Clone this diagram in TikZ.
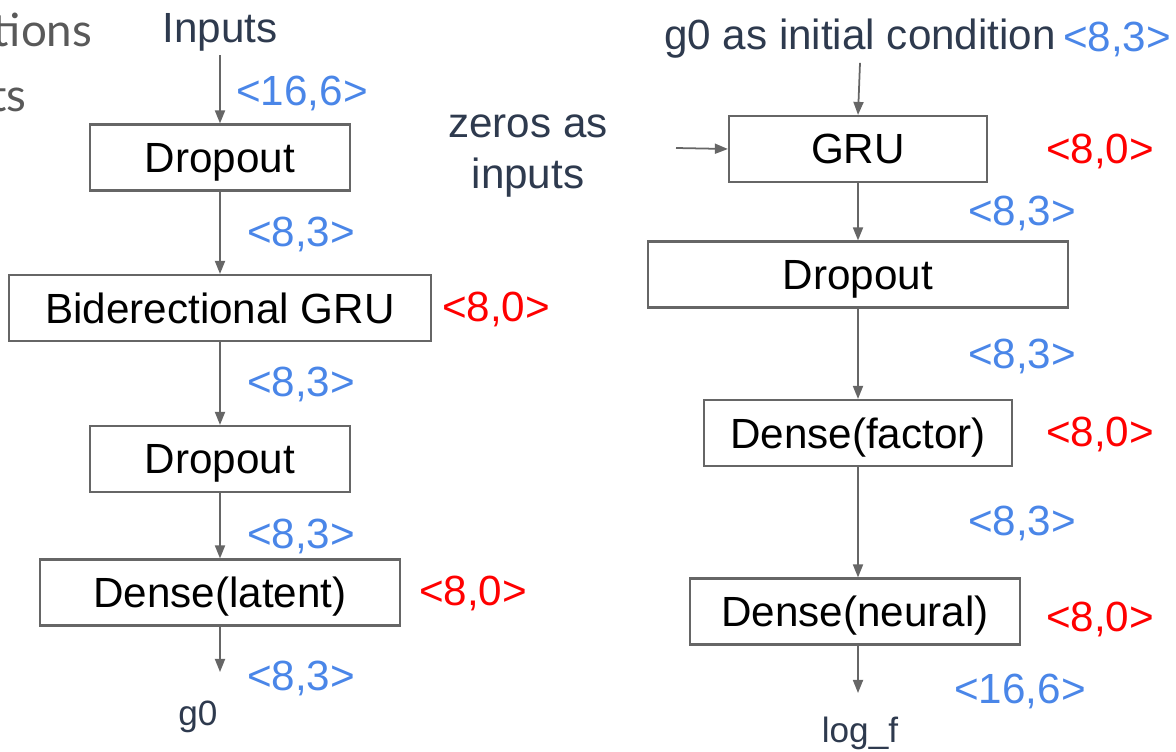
\documentclass[tikz,border=0pt]{standalone}
\usepackage{fontspec}
\setmainfont{Liberation Sans}
\newfontfamily\latofont{Lato}
\usepackage{xcolor}
\usetikzlibrary{arrows.meta}

\definecolor{dimblue}{HTML}{4A86E8}
\definecolor{slate}{HTML}{2E3A4E}
\definecolor{edgegray}{HTML}{666666}
\definecolor{slidegray}{HTML}{595959}

\tikzset{
  layer/.style={draw=edgegray, line width=0.6pt, text=black, font=\fontsize{12}{14}\selectfont, minimum height=0.66cm, inner sep=0pt, text depth=0pt},
  dims/.style={text=dimblue, font=\fontsize{12}{14}\selectfont, inner sep=1pt},
  units/.style={text=red, font=\fontsize{12}{14}\selectfont, inner sep=1pt},
  io/.style={text=slate, font=\fontsize{12}{14}\selectfont, inner sep=1pt},
  flow/.style={draw=edgegray, line width=0.5pt, -{Triangle[length=0.13cm, width=0.1cm]}}
}

\begin{document}
\begin{tikzpicture}[x=0.01cm, y=-0.01cm]
\useasboundingbox (0,0) rectangle (1176,752);
\clip (0,0) rectangle (1176,752);

% Slide text cut at the edge
\node[text=slidegray, font=\latofont\fontsize{13}{15}\selectfont, anchor=base east, inner sep=0pt] (slideA) at (93,47) {tions};
\node[text=slidegray, font=\latofont\fontsize{13}{15}\selectfont, anchor=base east, inner sep=0pt] (slideB) at (27,112) {ts};

% Encoder
\node[io] (inputs) at (220,32) {Inputs};
\node[layer, minimum width=2.59cm] (drop1) at (220,157.5) {Dropout};
\node[layer, minimum width=4.21cm] (bigru) at (220,308) {Biderectional GRU};
\node[layer, minimum width=2.59cm] (drop2) at (220,459) {Dropout};
\node[layer, minimum width=3.60cm] (latent) at (220,592.5) {Dense(latent)};
\coordinate (g0end) at (220,672);
\node[io, font=\fontsize{10}{12}\selectfont] (g0) at (198,717) {g0};

\draw[flow] (inputs.south) -- (drop1.north);
\draw[flow] (drop1.south) -- (bigru.north);
\draw[flow] (bigru.south) -- (drop2.north);
\draw[flow] (drop2.south) -- (latent.north);
\draw[flow] (latent.south) -- (g0end);

\node[dims] (dimA) at (302,93) {<16,6>};
\node[dims] (dimB) at (301,234) {<8,3>};
\node[dims] (dimC) at (301,384) {<8,3>};
\node[dims] (dimD) at (301,536) {<8,3>};
\node[dims] (dimE) at (301,678) {<8,3>};
\node[units] (unitA) at (496,309) {<8,0>};
\node[units] (unitB) at (473,593) {<8,0>};

% Generator
\node[io] (init) at (860,39) {g0 as initial condition};
\node[dims] (dimF) at (1117,39) {<8,3>};
\node[io, align=center, font=\fontsize{12}{14.5}\selectfont] (zeros) at (528,156) {zeros as\\inputs};
\coordinate (zerostart) at (676,148);
\node[layer, minimum width=2.58cm] (gru) at (858,149) {GRU};
\node[layer, minimum width=4.20cm] (drop3) at (858,274.5) {Dropout};
\node[layer, minimum width=3.08cm] (factor) at (858,433) {Dense(factor)};
\node[layer, minimum width=3.29cm] (neural) at (855,611.5) {Dense(neural)};
\coordinate (logend) at (858,693);
\node[io, font=\fontsize{10}{12}\selectfont] (logf) at (860,733) {log\_f};

\draw[flow] (init.south) -- (gru.north);
\draw[flow] (zerostart) -- (gru.west);
\draw[flow] (gru.south) -- (drop3.north);
\draw[flow] (drop3.south) -- (factor.north);
\draw[flow] (factor.south) -- (neural.north -| factor.south);
\draw[flow] (neural.south -| logend) -- (logend);

\node[units] (unitC) at (1100,151) {<8,0>};
\node[dims] (dimG) at (1022,213) {<8,3>};
\node[dims] (dimH) at (1022,356) {<8,3>};
\node[units] (unitD) at (1100,434) {<8,0>};
\node[dims] (dimI) at (1022,523) {<8,3>};
\node[units] (unitE) at (1100,619) {<8,0>};
\node[dims] (dimJ) at (1020,691) {<16,6>};

\end{tikzpicture}
\end{document}
